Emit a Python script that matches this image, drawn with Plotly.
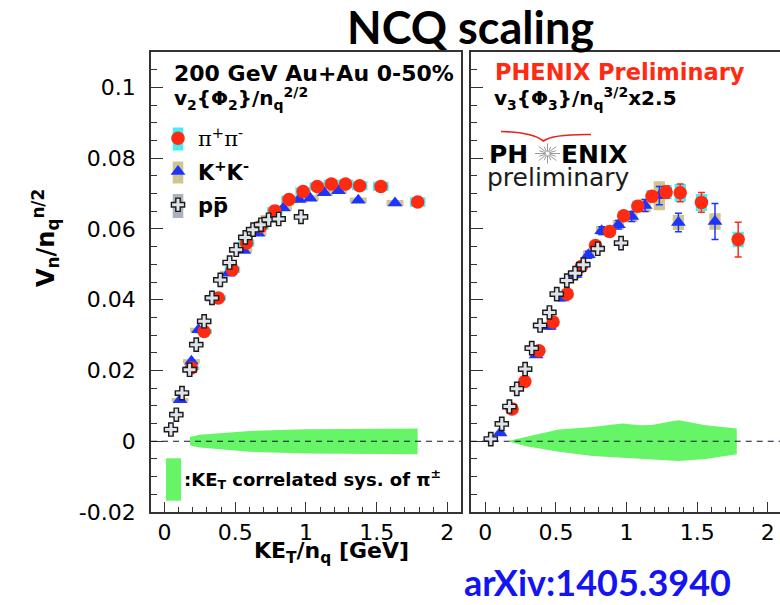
import math
import plotly.graph_objects as go

# ---------------- data ----------------
# pions (same KE_T/n_q bins in both panels)
pi_ket = [0.19, 0.28, 0.38, 0.48, 0.58, 0.68, 0.78, 0.88, 0.98, 1.08, 1.18, 1.28, 1.38, 1.53, 1.79]
pi_v2 = [0.0207, 0.0310, 0.0405, 0.0485, 0.0560, 0.0607, 0.0651, 0.0683, 0.0706, 0.0720,
         0.0727, 0.0727, 0.0722, 0.0720, 0.0676]
pi_v2_sys = [0.0006, 0.0007, 0.0008, 0.0009, 0.0010, 0.0010, 0.0011, 0.0011, 0.0012, 0.0012,
             0.0012, 0.0012, 0.0013, 0.0013, 0.0013]
pi_v3 = [0.0091, 0.0169, 0.0256, 0.0337, 0.0416, 0.0494, 0.0553, 0.0593, 0.0637, 0.0664,
         0.0692, 0.0704, 0.0702, 0.0675, 0.0570]
pi_v3_err = [0.0003, 0.0004, 0.0005, 0.0006, 0.0007, 0.0008, 0.0009, 0.0010, 0.0011, 0.0012,
             0.0014, 0.0017, 0.0025, 0.0028, 0.0049]
pi_v3_sys = [0.0005, 0.0006, 0.0008, 0.0009, 0.0010, 0.0011, 0.0012, 0.0013, 0.0014, 0.0016,
             0.0018, 0.0020, 0.0025, 0.0024, 0.0022]

# kaons
k_ket_v2 = [0.11, 0.19, 0.24, 0.34, 0.45, 0.56, 0.66, 0.74, 0.84, 0.95, 1.03, 1.13, 1.23, 1.37, 1.63]
k_v2 = [0.0117, 0.0226, 0.0315, 0.0405, 0.0475, 0.0539, 0.0588, 0.0631, 0.0659, 0.0683,
        0.0687, 0.0702, 0.0708, 0.0681, 0.0673]
k_v2_sys = [0.0005, 0.0006, 0.0006, 0.0007, 0.0007, 0.0007, 0.0008, 0.0008, 0.0008, 0.0008,
            0.0008, 0.0008, 0.0008, 0.0008, 0.0009]
k_ket_v3 = [0.105, 0.36, 0.454, 0.541, 0.636, 0.73, 0.824, 0.942, 1.037, 1.131, 1.232, 1.367, 1.626]
k_v3 = [0.0023, 0.0244, 0.0324, 0.0405, 0.0471, 0.0527, 0.0595, 0.0612, 0.0635, 0.0666,
        0.0694, 0.0618, 0.0621]
k_v3_err = [0.0003, 0.0006, 0.0007, 0.0008, 0.0009, 0.0010, 0.0011, 0.0012, 0.0014, 0.0017,
            0.0026, 0.0026, 0.0051]
k_v3_sys = [0.0004, 0.0008, 0.0009, 0.0010, 0.0011, 0.0012, 0.0013, 0.0014, 0.0016, 0.0019,
            0.0041, 0.0021, 0.0023]

# protons
p_ket_v2 = [0.045, 0.083, 0.123, 0.177, 0.224, 0.28, 0.335, 0.394, 0.46, 0.507, 0.571, 0.626,
            0.682, 0.736, 0.807, 0.965]
p_v2 = [0.0033, 0.0075, 0.0136, 0.0202, 0.0273, 0.0339, 0.0405, 0.0456, 0.0505, 0.0541,
        0.0576, 0.0598, 0.0612, 0.0626, 0.0628, 0.0634]
p_v2_sys = [0.0006] * 16
p_ket_v3 = [0.039, 0.117, 0.171, 0.223, 0.282, 0.329, 0.388, 0.454, 0.506, 0.577, 0.636, 0.694,
            0.796, 0.961]
p_v3 = [0.0006, 0.0049, 0.0098, 0.0148, 0.0204, 0.0263, 0.0327, 0.0364, 0.0416, 0.0454,
        0.0475, 0.0499, 0.0544, 0.0560]
p_v3_sys = [0.0005] * 14

# KE_T-correlated systematic band of pions
band_ket_v2 = [0.18, 0.25, 0.37, 0.6, 1.0, 1.54, 1.79]
band_hi_v2 = [0.0012, 0.0018, 0.0022, 0.0029, 0.0034, 0.0036, 0.0036]
band_lo_v2 = [-0.0012, -0.0018, -0.0023, -0.0030, -0.0035, -0.0037, -0.0037]
band_ket_v3 = [0.175, 0.29, 0.41, 0.52, 0.76, 0.97, 1.09, 1.18, 1.33, 1.37, 1.56, 1.78]
band_hi_v3 = [0.0002, 0.0012, 0.0024, 0.0033, 0.0040, 0.0050, 0.0045, 0.0046, 0.0057, 0.0059,
              0.0045, 0.0036]
band_lo_v3 = [-0.0002, -0.0014, -0.0022, -0.0030, -0.0042, -0.0047, -0.0049, -0.0052, -0.0055,
              -0.0056, -0.0050, -0.0037]

y_tickvals = [-0.02, 0, 0.02, 0.04, 0.06, 0.08, 0.1]
y_ticktext = ["-0.02", "0", "0.02", "0.04", "0.06", "0.08", "0.1"]
x_tickvals = [0, 0.5, 1, 1.5, 2]
x_ticktext = ["0", "0.5", "1", "1.5", "2"]

# ---------------- styles ----------------
W, H = 780, 605
ML, MR, MT, MB = 151, 0, 52, 93
PW, PH = W - ML - MR, H - MT - MB

RED = "#ff2a12"
BLUE = "#1c34ff"
CYAN = "#45eef5"
KHAKI = "#cfc68f"
GRAY = "#a9b3bd"
GREEN = "#66f566"
FRAME = "#333333"
SANS = "DejaVu Sans"


def pxx(x):
    return (x - ML) / PW


def pxy(y):
    return (H - MB - y) / PH


fig = go.Figure()
shapes = []
annotations = []


def band(xs, hi, lo, xa, ya):
    fig.add_trace(go.Scatter(
        x=xs + xs[::-1], y=hi + lo[::-1], mode="lines", fill="toself",
        fillcolor=GREEN, line=dict(width=0), hoverinfo="skip",
        showlegend=False, xaxis=xa, yaxis=ya))


def sys_boxes(xs, ys, sys, color, xref, yref, half):
    for x, y, s in zip(xs, ys, sys):
        shapes.append(dict(type="rect", xref=xref, yref=yref, layer="below",
                           x0=x - half, x1=x + half, y0=y - s, y1=y + s,
                           fillcolor=color, line=dict(width=0)))


band(band_ket_v2, band_hi_v2, band_lo_v2, "x", "y")
band(band_ket_v3, band_hi_v3, band_lo_v3, "x2", "y2")

sys_boxes(pi_ket, pi_v2, pi_v2_sys, CYAN, "x", "y", 0.055)
sys_boxes(k_ket_v2, k_v2, k_v2_sys, KHAKI, "x", "y", 0.06)
sys_boxes(p_ket_v2, p_v2, p_v2_sys, GRAY, "x", "y", 0.05)
sys_boxes(pi_ket, pi_v3, pi_v3_sys, CYAN, "x2", "y2", 0.04)
sys_boxes(k_ket_v3, k_v3, k_v3_sys, KHAKI, "x2", "y2", 0.04)
sys_boxes(p_ket_v3, p_v3, p_v3_sys, GRAY, "x2", "y2", 0.04)

pi_marker = dict(symbol="circle", size=13.5, color=RED, line=dict(width=0))
k_marker = dict(symbol="triangle-up", size=13, color=BLUE, line=dict(width=0))
p_marker = dict(symbol="cross", size=11, color="#dfe4ea", line=dict(width=1.4, color="#1a1a1a"))

pi_name = '<span style="font-family:DejaVu Serif">π<sup>+</sup>π<sup>-</sup></span>'
k_name = "<b>K<sup>+</sup>K<sup>-</sup></b>"
p_name = "<b>pp\u0305</b>"

# left panel: v2
fig.add_trace(go.Scatter(x=k_ket_v2, y=k_v2, mode="markers", marker=k_marker, name=k_name,
                         legendrank=2, legendgroup="k", xaxis="x", yaxis="y"))
fig.add_trace(go.Scatter(x=pi_ket, y=pi_v2, mode="markers", marker=pi_marker, name=pi_name,
                         legendrank=1, legendgroup="pi", xaxis="x", yaxis="y"))
fig.add_trace(go.Scatter(x=p_ket_v2, y=p_v2, mode="markers", marker=p_marker, name=p_name,
                         legendrank=3, legendgroup="p", xaxis="x", yaxis="y"))

# right panel: v3 x 2.5
fig.add_trace(go.Scatter(x=k_ket_v3, y=k_v3, mode="markers", marker=k_marker, showlegend=False,
                         error_y=dict(type="data", array=k_v3_err, color=BLUE, thickness=1.5, width=3.5),
                         xaxis="x2", yaxis="y2"))
fig.add_trace(go.Scatter(x=pi_ket, y=pi_v3, mode="markers", marker=pi_marker, showlegend=False,
                         error_y=dict(type="data", array=pi_v3_err, color=RED, thickness=1.5, width=3.5),
                         xaxis="x2", yaxis="y2"))
fig.add_trace(go.Scatter(x=p_ket_v3, y=p_v3, mode="markers", marker=p_marker, showlegend=False,
                         xaxis="x2", yaxis="y2"))

# dashed zero line in both panels
for xr, yr in (("x domain", "y"), ("x2 domain", "y2")):
    shapes.append(dict(type="line", xref=xr, yref=yr, x0=0, x1=1, y0=0, y1=0, layer="above",
                       line=dict(color="#111133", width=1.2, dash="6px,5px")))

# legend keys: systematic boxes behind the legend symbols
for yc, col, hh in ((139, CYAN, 11.5), (172.5, KHAKI, 11), (206, GRAY, 12)):
    shapes.append(dict(type="rect", xref="paper", yref="paper", layer="below",
                       x0=pxx(172.7), x1=pxx(183.3), y0=pxy(yc + hh), y1=pxy(yc - hh),
                       fillcolor=col, line=dict(width=0)))

# green key for the correlated systematic band
shapes.append(dict(type="rect", xref="paper", yref="paper", layer="above",
                   x0=pxx(166), x1=pxx(181), y0=pxy(500.7), y1=pxy(458.3),
                   fillcolor=GREEN, line=dict(width=0)))

# PHENIX logo: red arc and starburst
shapes.append(dict(
    type="path", xref="paper", yref="paper", layer="above",
    path=(f"M {pxx(501)},{pxy(131.5)} Q {pxx(532)},{pxy(132)} {pxx(543.5)},{pxy(141)} "
          f"Q {pxx(553)},{pxy(134)} {pxx(591)},{pxy(134.5)}"),
    line=dict(color="#e8231a", width=1.6)))
cx, cy = 547.5, 153.5
for i in range(16):
    a = 2 * math.pi * i / 16
    r_out = 12.5 if i % 2 == 0 else 9
    shapes.append(dict(type="line", xref="paper", yref="paper", layer="above",
                       x0=pxx(cx + 2 * math.cos(a)), y0=pxy(cy + 2 * math.sin(a)),
                       x1=pxx(cx + r_out * math.cos(a)), y1=pxy(cy + 0.8 * r_out * math.sin(a)),
                       line=dict(color="#9a9a9a", width=1)))


def text(s, x, y, size, color="black", family=SANS, xanchor="left", angle=0):
    annotations.append(dict(text=s, x=pxx(x), y=pxy(y), xref="paper", yref="paper",
                            xanchor=xanchor, yanchor="middle", showarrow=False,
                            textangle=angle, font=dict(family=family, size=size, color=color)))


text("<b>NCQ scaling</b>", 470, 27, 45, family="Lato", xanchor="center")
text("<b>arXiv:1405.3940</b>", 597, 582, 36, color="#1414f2", family="Lato", xanchor="center")
text("<b>KE<sub>T</sub>/n<sub>q</sub> [GeV]</b>", 331, 552, 22, xanchor="center")
text("<b>V<sub>n</sub>/n<sub>q</sub><sup>n/2</sup></b>", 45, 238, 24, xanchor="center", angle=-90)

text("<b>200 GeV Au+Au 0-50%</b>", 172, 74, 22)
text("<b>v<sub>2</sub>{Φ<sub>2</sub>}/n<sub>q</sub><sup>2/2</sup></b>", 172, 99, 20)
text("<b>PHENIX Preliminary</b>", 493, 72, 22.5, color=RED)
text("<b>v<sub>3</sub>{Φ<sub>3</sub>}/n<sub>q</sub><sup>3/2</sup>x2.5</b>", 492, 99, 20)
text("<b>PH</b>", 487, 154, 25)
text("<b>ENIX</b>", 559, 154, 25)
text("preliminary", 485, 177, 25, color="#1c1c1c")
text("<b>:KE<sub>T</sub> correlated sys. of π<sup>±</sup></b>", 182, 479, 18)

axis_common = dict(showline=True, linecolor=FRAME, linewidth=1.6, showgrid=False, zeroline=False,
                   ticks="inside", tickcolor=FRAME, tickwidth=1.2)
xaxis_common = dict(axis_common, tickmode="array", tickvals=x_tickvals, ticktext=x_ticktext,
                    ticklen=10, mirror=True,
                    minor=dict(ticks="inside", tick0=0, dtick=0.1, ticklen=5, tickcolor=FRAME,
                               tickwidth=1),
                    tickfont=dict(family=SANS, size=22, color="black"))
yaxis_common = dict(axis_common, range=[-0.02, 0.110], tickmode="array", tickvals=y_tickvals,
                    ticklen=12,
                    minor=dict(ticks="inside", tick0=0, dtick=0.005, ticklen=6, tickcolor=FRAME,
                               tickwidth=1))

fig.update_layout(
    width=W, height=H,
    margin=dict(l=ML, r=MR, t=MT, b=MB, autoexpand=False),
    paper_bgcolor="white", plot_bgcolor="white",
    xaxis=dict(xaxis_common, domain=[0, 0.4936], range=[-0.096, 2.10], anchor="y"),
    xaxis2=dict(xaxis_common, domain=[0.5083, 1], range=[-0.103, 2.086], anchor="y2"),
    yaxis=dict(yaxis_common, domain=[0, 1], anchor="x", ticktext=y_ticktext, mirror=True,
               tickfont=dict(family=SANS, size=22, color="black"), ticklabelstandoff=9),
    yaxis2=dict(yaxis_common, domain=[0, 1], anchor="x2", showticklabels=False, mirror=False),
    showlegend=True,
    legend=dict(x=pxx(158), y=pxy(118), xanchor="left", yanchor="top",
                bgcolor="rgba(0,0,0,0)", font=dict(family=SANS, size=21, color="black"),
                tracegroupgap=3, itemwidth=30),
    shapes=shapes,
    annotations=annotations,
)

fig.write_html("out.html")
